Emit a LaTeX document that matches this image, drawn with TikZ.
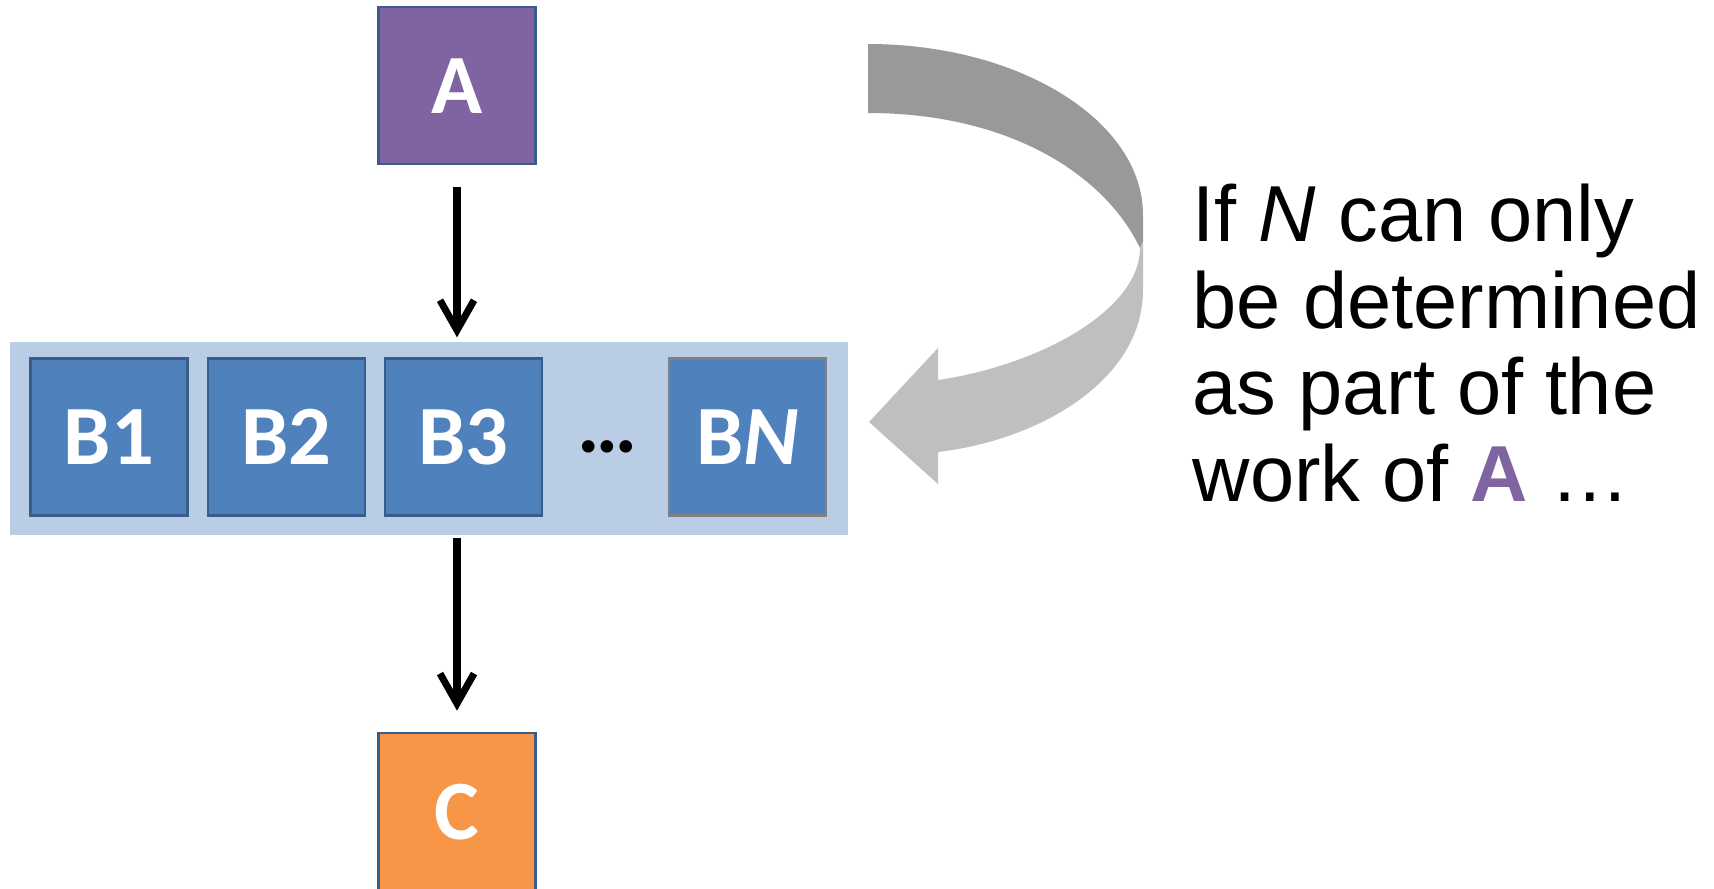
\documentclass[tikz,border=0pt]{standalone}
\usepackage{fontspec}
\setmainfont{Liberation Sans}
\newfontfamily\boxfont{Carlito}
\usepackage{tikz}
\usetikzlibrary{positioning,calc,arrows.meta}
\definecolor{aclr}{RGB}{128,100,162}
\definecolor{bclr}{RGB}{79,129,189}
\definecolor{cclr}{RGB}{247,150,70}
\definecolor{bandclr}{RGB}{185,205,229}
\definecolor{edgeclr}{RGB}{56,93,138}
\definecolor{darkturn}{RGB}{153,153,153}
\definecolor{lightturn}{RGB}{191,191,191}

\begin{document}
\begin{tikzpicture}[
    x=1cm,
    y=1cm,
    >={Straight Barb[length=3mm,width=3.4mm]},
    taskbox/.style={draw=edgeclr, line width=0.6pt, minimum width=1.57cm, minimum height=1.57cm, inner sep=0pt, text=white, font=\boxfont\bfseries\fontsize{24}{28}\selectfont},
    abox/.style={taskbox, fill=aclr},
    bbox/.style={taskbox, fill=bclr},
    cbox/.style={taskbox, fill=cclr},
    bandbox/.style={fill=bandclr, minimum width=8.38cm, minimum height=1.925cm, inner sep=0pt},
    flow/.style={->, line width=2pt}
]
\clip (0,0) rectangle (17.14,-8.88);

% Parent task.
\node[abox] (a_box) at (4.57,-0.858) {A};

% Child tasks.
\node[bandbox] (band) at (4.29,-4.383) {};
\node[bbox] (b1) at (1.09,-4.37) {B1};
\node[bbox] (b2) at (2.865,-4.37) {B2};
\node[bbox] (b3) at (4.635,-4.37) {B3};
\node[font=\boxfont\bfseries\fontsize{24}{28}\selectfont, inner sep=0pt] (b_dots) at (6.075,-4.47) {…};
\node[bbox, draw=gray] (b_n) at (7.475,-4.37) {B\textit{N}};

% Join task.
\node[cbox] (c_box) at (4.57,-8.118) {C};

% Main flows.
\draw[flow, shorten <=0.217cm, shorten >=0.04cm] (a_box.south) -- (a_box.south |- band.north);
\draw[flow, shorten <=0.026cm, shorten >=0.216cm] (c_box.north |- band.south) -- (c_box.north);

% Turning arrow.
\fill[darkturn] (8.68,-0.44) .. controls (10.20,-0.44) and (11.43,-1.21) .. (11.43,-2.15) -- (11.43,-2.42) -- (11.40,-2.48)
    .. controls (11.05,-1.75) and (10.10,-1.13) .. (8.68,-1.13) -- cycle;
\fill[lightturn] (11.40,-2.48) -- (11.43,-2.42) -- (11.43,-2.90) .. controls (11.43,-3.80) and (10.40,-4.40) .. (9.38,-4.52)
    -- (9.38,-4.84) -- (8.69,-4.22) -- (9.38,-3.48) -- (9.38,-3.80)
    .. controls (10.40,-3.65) and (11.40,-3.10) .. (11.40,-2.48) -- cycle;

% Note.
\node[anchor=north west, align=left, inner sep=0pt, font=\fontsize{22.6}{24.7}\selectfont] (note) at (11.92,-1.83)
    {If \textit{N} can only\\be determined\\as part of the\\work of \textcolor{aclr}{\textbf{A}} …};

\end{tikzpicture}
\end{document}
